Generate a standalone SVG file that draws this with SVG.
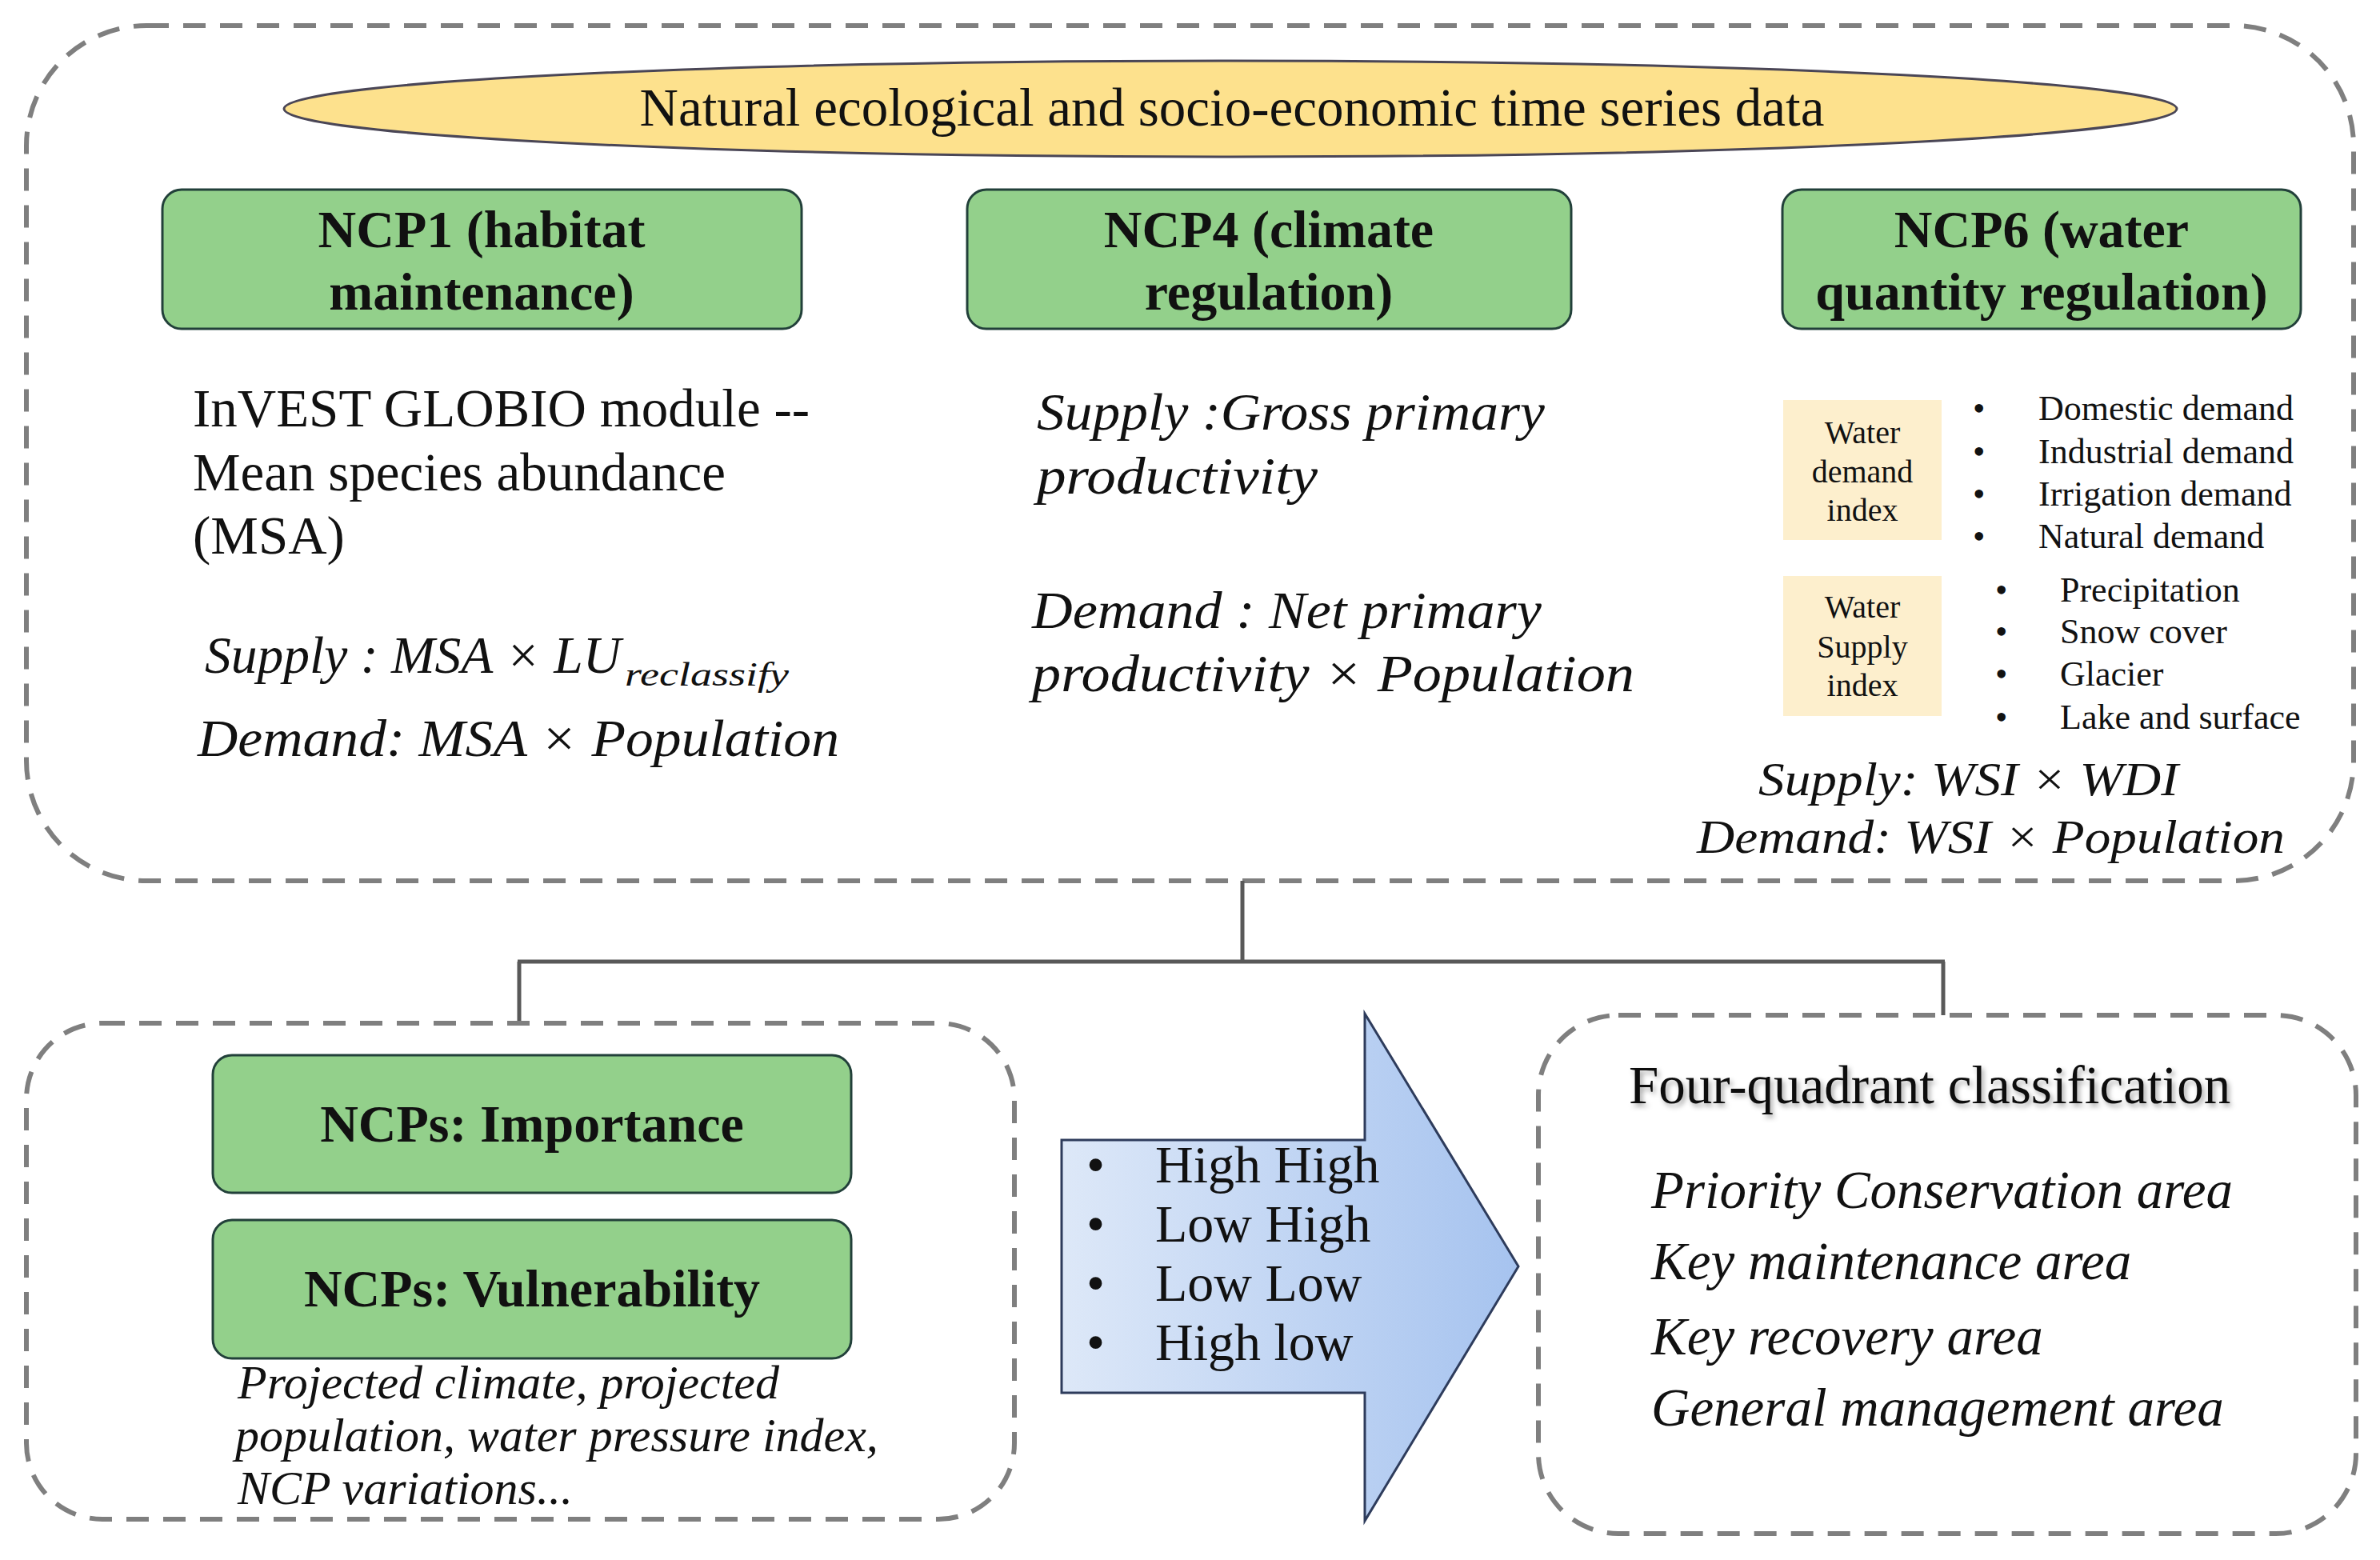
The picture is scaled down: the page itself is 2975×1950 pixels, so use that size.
<svg xmlns="http://www.w3.org/2000/svg" width="2975" height="1950" viewBox="0 0 2975 1950">
<defs>
<linearGradient id="arrowGrad" x1="0" y1="0" x2="1" y2="0">
<stop offset="0" stop-color="#dde8f8"/>
<stop offset="1" stop-color="#a6c3ef"/>
</linearGradient>
<filter id="shadow" x="-5%" y="-20%" width="110%" height="150%">
<feDropShadow dx="3" dy="4" stdDeviation="3" flood-color="#000" flood-opacity="0.35"/>
</filter>
<style>
.dash{fill:none;stroke:#7f7f7f;stroke-width:6;stroke-dasharray:28 18;}
.green{fill:#93d08b;stroke:#22403a;stroke-width:3;}
.pale{fill:#fdefcd;}
.conn{fill:none;stroke:#595959;stroke-width:5;}
.t{font-family:"Liberation Serif","Times New Roman",serif;fill:#111;}
.b{font-weight:bold;font-size:66px;text-anchor:middle;}
.i{font-style:italic;}
.m{font-family:"Liberation Serif","Times New Roman",serif;font-style:italic;fill:#111;}
</style>
</defs>
<rect width="2975" height="1950" fill="#fff"/>

<g id="top-panel">
<rect class="dash" x="33" y="32" width="2909" height="1069" rx="150" ry="150"/>
</g>

<g id="data-ellipse">
<ellipse cx="1538" cy="136" rx="1183" ry="60" fill="#fde18d" stroke="#4a4656" stroke-width="3"/>
<text class="t" x="1540" y="157" font-size="67" text-anchor="middle">Natural ecological and socio-economic time series data</text>
</g>

<g id="ncp1">
<rect class="green" x="203" y="237" width="799" height="174" rx="24"/>
<text class="t b" x="602" y="309">NCP1 (habitat</text>
<text class="t b" x="602" y="387">maintenance)</text>
<text class="t" x="241" y="533" font-size="67">InVEST GLOBIO module --</text>
<text class="t" x="241" y="613" font-size="67">Mean species abundance</text>
<text class="t" x="241" y="692" font-size="67">(MSA)</text>
<text class="m" x="256" y="841" font-size="66" textLength="520" lengthAdjust="spacingAndGlyphs">Supply : MSA × LU</text>
<text class="m" x="781" y="857" font-size="42" textLength="205" lengthAdjust="spacingAndGlyphs">reclassify</text>
<text class="m" x="247" y="945" font-size="66" textLength="802" lengthAdjust="spacingAndGlyphs">Demand: MSA × Population</text>
</g>

<g id="ncp4">
<rect class="green" x="1209" y="237" width="755" height="174" rx="24"/>
<text class="t b" x="1586" y="309">NCP4 (climate</text>
<text class="t b" x="1586" y="387">regulation)</text>
<text class="m" x="1296" y="537" font-size="66" textLength="635" lengthAdjust="spacingAndGlyphs">Supply :Gross primary</text>
<text class="m" x="1296" y="617" font-size="66" textLength="351" lengthAdjust="spacingAndGlyphs">productivity</text>
<text class="m" x="1290" y="785" font-size="66" textLength="637" lengthAdjust="spacingAndGlyphs">Demand : Net primary</text>
<text class="m" x="1290" y="864" font-size="66" textLength="753" lengthAdjust="spacingAndGlyphs">productivity × Population</text>
</g>

<g id="ncp6">
<rect class="green" x="2228" y="237" width="648" height="174" rx="24"/>
<text class="t b" x="2552" y="309">NCP6 (water</text>
<text class="t b" x="2552" y="387">quantity regulation)</text>
<rect class="pale" x="2229" y="500" width="198" height="175"/>
<text class="t" x="2328" y="554" font-size="40" text-anchor="middle">Water</text>
<text class="t" x="2328" y="603" font-size="40" text-anchor="middle">demand</text>
<text class="t" x="2328" y="651" font-size="40" text-anchor="middle">index</text>
<g class="t" font-size="44">
<text x="2466" y="525">•</text><text x="2548" y="525">Domestic demand</text>
<text x="2466" y="579">•</text><text x="2548" y="579">Industrial demand</text>
<text x="2466" y="632">•</text><text x="2548" y="632">Irrigation demand</text>
<text x="2466" y="685">•</text><text x="2548" y="685">Natural demand</text>
</g>
<rect class="pale" x="2229" y="720" width="198" height="175"/>
<text class="t" x="2328" y="772" font-size="40" text-anchor="middle">Water</text>
<text class="t" x="2328" y="822" font-size="40" text-anchor="middle">Supply</text>
<text class="t" x="2328" y="870" font-size="40" text-anchor="middle">index</text>
<g class="t" font-size="44">
<text x="2494" y="752">•</text><text x="2575" y="752">Precipitation</text>
<text x="2494" y="804">•</text><text x="2575" y="804">Snow cover</text>
<text x="2494" y="857">•</text><text x="2575" y="857">Glacier</text>
<text x="2494" y="911">•</text><text x="2575" y="911">Lake and surface</text>
</g>
<text class="m" x="2198" y="994" font-size="60" textLength="525" lengthAdjust="spacingAndGlyphs">Supply: WSI × WDI</text>
<text class="m" x="2121" y="1066" font-size="60" textLength="735" lengthAdjust="spacingAndGlyphs">Demand: WSI × Population</text>
</g>

<g id="connectors">
<path class="conn" d="M1553 1101 V1202 M647 1202 H2431 M649 1202 V1279 M2429 1202 V1269"/>
</g>

<g id="importance-panel">
<rect class="dash" x="33" y="1279" width="1235" height="620" rx="95" ry="95"/>
<rect class="green" x="266" y="1319" width="798" height="172" rx="24"/>
<text class="t b" x="665" y="1427">NCPs: Importance</text>
<rect class="green" x="266" y="1525" width="798" height="173" rx="24"/>
<text class="t b" x="665" y="1633">NCPs: Vulnerability</text>
<text class="t i" x="297" y="1748" font-size="60">Projected climate, projected</text>
<text class="t i" x="294" y="1814" font-size="60">population, water pressure index,</text>
<text class="t i" x="297" y="1880" font-size="60">NCP variations...</text>
</g>

<g id="arrow">
<polygon points="1327,1425 1706,1425 1706,1267 1898,1583 1706,1901 1706,1741 1327,1741" fill="url(#arrowGrad)" stroke="#2e3c5c" stroke-width="3"/>
<g class="t" font-size="66">
<text x="1358" y="1478">•</text><text x="1444" y="1478">High High</text>
<text x="1358" y="1552">•</text><text x="1444" y="1552">Low High</text>
<text x="1358" y="1626">•</text><text x="1444" y="1626">Low Low</text>
<text x="1358" y="1700">•</text><text x="1444" y="1700">High low</text>
</g>
</g>

<g id="classification-panel">
<rect class="dash" x="1923" y="1269" width="1022" height="648" rx="100" ry="100"/>
<text class="t" x="2036" y="1379" font-size="67" filter="url(#shadow)">Four-quadrant classification</text>
<text class="t i" x="2064" y="1510" font-size="67">Priority Conservation area</text>
<text class="t i" x="2064" y="1599" font-size="67">Key maintenance area</text>
<text class="t i" x="2064" y="1693" font-size="67">Key recovery area</text>
<text class="t i" x="2064" y="1782" font-size="67">General management area</text>
</g>
</svg>
